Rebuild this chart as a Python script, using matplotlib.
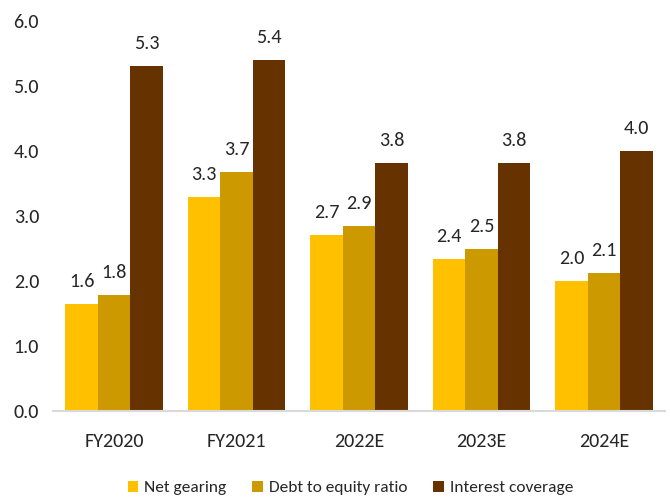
import matplotlib
matplotlib.use("Agg")
import matplotlib.pyplot as plt
import numpy as np

plt.rcParams['font.family'] = ['Carlito', 'DejaVu Sans']

categories = ["FY2020", "FY2021", "2022E", "2023E", "2024E"]
series_names = ["Net gearing", "Debt to equity ratio", "Interest coverage"]
net_gearing = [1.65, 3.29, 2.71, 2.34, 2.00]
debt_to_equity = [1.78, 3.68, 2.85, 2.49, 2.12]
interest_coverage = [5.31, 5.40, 3.82, 3.82, 4.00]
net_gearing_labels = ["1.6", "3.3", "2.7", "2.4", "2.0"]
debt_to_equity_labels = ["1.8", "3.7", "2.9", "2.5", "2.1"]
interest_coverage_labels = ["5.3", "5.4", "3.8", "3.8", "4.0"]
yticks = [0.0, 1.0, 2.0, 3.0, 4.0, 5.0, 6.0]

colors = ["#FFC000", "#CC9900", "#663300"]
txt_color = "#262626"

fig = plt.figure(figsize=(6.7, 4.97), dpi=100)
ax = fig.add_axes([0.079, 0.173, 0.914, 0.785])

x = np.arange(len(categories))
w = 0.265
data = [net_gearing, debt_to_equity, interest_coverage]
labels = [net_gearing_labels, debt_to_equity_labels, interest_coverage_labels]
for i, (vals, labs, c, name) in enumerate(zip(data, labels, colors, series_names)):
    bars = ax.bar(x + (i - 1) * w, vals, width=w, color=c, label=name)
    for b, lab in zip(bars, labs):
        ax.annotate(lab, (b.get_x() + b.get_width() / 2, b.get_height()),
                    xytext=(0, 10), textcoords="offset points",
                    ha="center", va="bottom", fontsize=14.5, color=txt_color)

ax.set_xlim(-0.5, 4.5)
ax.set_ylim(0, 6)
ax.set_yticks(yticks)
ax.set_yticklabels([f"{t:.1f}" for t in yticks], fontsize=14.5, color=txt_color)
ax.set_xticks(x)
ax.set_xticklabels(categories, fontsize=14.5, color=txt_color)
ax.tick_params(axis="y", length=0, pad=10)
ax.tick_params(axis="x", length=0, pad=16)
for s in ["top", "right", "left"]:
    ax.spines[s].set_visible(False)
ax.spines["bottom"].set_color("#D9D9D9")
ax.spines["bottom"].set_linewidth(1.5)

leg = fig.legend(loc="center", bbox_to_anchor=(0.523, 0.018), ncol=3,
                 frameon=False, fontsize=12.5, handlelength=0.6, handleheight=0.6,
                 handletextpad=0.35, columnspacing=1.5, borderpad=0)
for t in leg.get_texts():
    t.set_color(txt_color)

fig.savefig("out.png", dpi=100)
